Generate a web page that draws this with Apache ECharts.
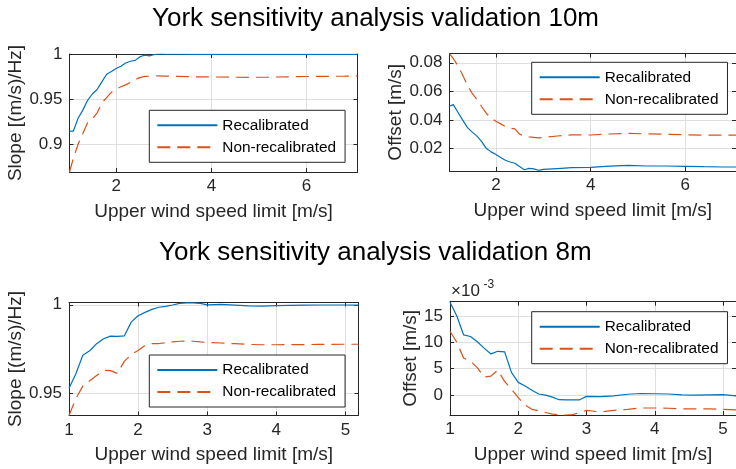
<!DOCTYPE html>
<html>
<head>
<meta charset="utf-8">
<script src="https://cdn.jsdelivr.net/npm/echarts@6/dist/echarts.min.js"></script>
<style>
html, body { margin: 0; padding: 0; background: #fff; }
#chart { width: 736px; height: 469px; }
</style>
</head>
<body>
<div id="chart"></div>
<script>
// upper wind speed limit [m/s]
const speed10m = [1.02, 1.1, 1.2, 1.3, 1.4, 1.5, 1.6, 1.7, 1.8, 1.9, 2.0, 2.1, 2.2, 2.3, 2.4, 2.5, 2.6, 2.7, 2.8, 2.9, 3.0, 3.3, 3.6, 4.0, 4.4, 4.8, 5.2, 5.6, 6.0, 6.4, 6.8, 7.07]
const speed8m = [1.0, 1.1, 1.2, 1.3, 1.4, 1.5, 1.6, 1.7, 1.8, 1.9, 2.0, 2.1, 2.2, 2.3, 2.4, 2.5, 2.6, 2.7, 2.8, 2.9, 3.0, 3.2, 3.4, 3.6, 3.8, 4.0, 4.2, 4.4, 4.6, 4.8, 5.0, 5.19]

// 10m slope
const slopeRecal10m = [0.9145, 0.9145, 0.929, 0.938, 0.949, 0.956, 0.961, 0.9695, 0.978, 0.981, 0.9844, 0.987, 0.9905, 0.9925, 0.9935, 0.9975, 0.9993, 0.9985, 1.0, 1.0006, 1.0005, 1.0003, 1.0002, 1.0003, 1.0002, 1.0002, 1.0001, 1.0001, 1.0002, 1.0002, 1.0002, 1.0002]
const slopeNon10m = [0.869, 0.884, 0.900, 0.912, 0.924, 0.928, 0.935, 0.946, 0.952, 0.958, 0.9613, 0.964, 0.9662, 0.969, 0.972, 0.9742, 0.9756, 0.9758, 0.976, 0.9762, 0.976, 0.9756, 0.9752, 0.975, 0.9747, 0.9746, 0.9748, 0.9752, 0.9755, 0.9757, 0.9759, 0.9762]
// 10m offset [m/s]
const offsetRecal10m = [0.0495, 0.0507, 0.0452, 0.0398, 0.0346, 0.0314, 0.0286, 0.0248, 0.0199, 0.0176, 0.0158, 0.0137, 0.0117, 0.0105, 0.0096, 0.0074, 0.0051, 0.0060, 0.0057, 0.0047, 0.0053, 0.0059, 0.0065, 0.0068, 0.0076, 0.0081, 0.0077, 0.0077, 0.0075, 0.0072, 0.0070, 0.0070]
const offsetNon10m = [0.0863, 0.0830, 0.0778, 0.0713, 0.0642, 0.0585, 0.0542, 0.0492, 0.0445, 0.0412, 0.0390, 0.0372, 0.0353, 0.0342, 0.0337, 0.0300, 0.0287, 0.0281, 0.0278, 0.0274, 0.0277, 0.0287, 0.0295, 0.0294, 0.0301, 0.0305, 0.0302, 0.0299, 0.0296, 0.0293, 0.0293, 0.0293]

// 8m slope
const slopeRecal8m = [0.9528, 0.961, 0.9715, 0.974, 0.978, 0.9808, 0.9823, 0.9822, 0.9824, 0.9902, 0.9938, 0.9957, 0.9974, 0.9986, 0.9991, 0.9999, 1.0008, 1.0011, 1.0011, 1.0008, 1.0, 1.0002, 0.9998, 0.9994, 0.9992, 0.9995, 0.9997, 0.9998, 0.9999, 0.9999, 0.9999, 0.9998]
const slopeNon8m = [0.9374, 0.947, 0.954, 0.957, 0.960, 0.963, 0.9628, 0.9612, 0.968, 0.9718, 0.9742, 0.977, 0.978, 0.9781, 0.9785, 0.979, 0.9794, 0.9795, 0.9794, 0.979, 0.9787, 0.9784, 0.978, 0.9776, 0.9774, 0.9774, 0.9775, 0.9775, 0.9776, 0.9776, 0.9777, 0.9777]
// 8m offset, in units of 1e-3 m/s
const offsetRecal8m = [17.6, 15.0, 11.4, 11.1, 10.1, 8.9, 7.8, 8.3, 8.2, 4.3, 2.4, 1.7, 0.9, 0.2, 0.0, -0.4, -0.88, -0.9, -0.9, -0.9, -0.25, -0.3, -0.15, 0.15, 0.3, 0.25, 0.2, 0.05, 0.0, 0.05, 0.1, -0.15]
const offsetNon8m = [12.1, 10.0, 7.0, 6.4, 5.2, 3.4, 3.6, 4.7, 2.6, 1.1, -0.5, -1.9, -2.7, -3.0, -3.3, -3.6, -3.75, -3.8, -3.7, -3.3, -2.9, -3.2, -2.9, -2.7, -2.45, -2.45, -2.5, -2.6, -2.6, -2.6, -2.7, -2.8]

// tick labels
const xTicks10m = [2, 4, 6]
const xTicks8m = [1, 2, 3, 4, 5]
const slopeTicks10m = [0.9, 0.95, 1]
const offsetTicks10m = [0.02, 0.04, 0.06, 0.08]
const slopeTicks8m = [0.95, 1]
const offsetTicks8m = [0, 5, 10, 15]

const seriesNames = ['Recalibrated', 'Non-recalibrated']

const FONT = 'Arial, "Liberation Sans", Helvetica, sans-serif'
const AX = '#262626'
const GRIDC = '#dfdfdf'
const BLUE = '#0072BD'
const ORANGE = '#D95319'

const panels = [
  { grid: { left: 69.5, top: 54, width: 288, height: 118 }, xr: [1.02, 7.07], xt: xTicks10m,
    yr: [0.869, 1.0006], yt: slopeTicks10m, yName: 'Slope [(m/s)/Hz]', yGap: 44,
    xs: speed10m, a: slopeRecal10m, b: slopeNon10m, leg: { left: 149.3, top: 110.3 } },
  { grid: { left: 449.5, top: 53.5, width: 288.6, height: 117.5 }, xr: [1.02, 7.07], xt: xTicks10m,
    yr: [0.0042, 0.0865], yt: offsetTicks10m, yName: 'Offset [m/s]', yGap: 42,
    xs: speed10m, a: offsetRecal10m, b: offsetNon10m, leg: { left: 531.7, top: 62.3 } },
  { grid: { left: 69, top: 302.5, width: 289.5, height: 113 }, xr: [1.0, 5.19], xt: xTicks8m,
    yr: [0.9374, 1.0013], yt: slopeTicks8m, yName: 'Slope [(m/s)/Hz]', yGap: 44,
    xs: speed8m, a: slopeRecal8m, b: slopeNon8m, leg: { left: 149.3, top: 355 } },
  { grid: { left: 450, top: 301.7, width: 290, height: 113.3 }, xr: [1.0, 5.19], xt: xTicks8m,
    yr: [-3.78, 17.7], yt: offsetTicks8m, yName: 'Offset [m/s]', yGap: 30,
    xs: speed8m, a: offsetRecal8m, b: offsetNon8m, leg: { left: 531.7, top: 311.7 } }
]

const pairs = (xs, ys) => xs.map((x, i) => [x, ys[i]])

const grids = [], xAxes = [], yAxes = [], series = [], legends = []

panels.forEach((p, i) => {
  grids.push(Object.assign({ containLabel: false }, p.grid))
  const tick = (vals) => ({ show: true, inside: true, length: 4, customValues: vals, lineStyle: { color: AX, width: 1 } })
  const line = { show: true, onZero: false, lineStyle: { color: AX, width: 1 } }
  // bottom / top x axes
  xAxes.push({
    gridIndex: i, type: 'value', position: 'bottom', min: p.xr[0], max: p.xr[1],
    axisLine: line, axisTick: tick(p.xt),
    axisLabel: { customValues: p.xt, margin: 6, fontSize: 17, color: AX, fontFamily: FONT },
    splitLine: { show: true, lineStyle: { color: GRIDC, width: 1 } },
    name: 'Upper wind speed limit [m/s]', nameLocation: 'middle', nameGap: 30,
    nameTextStyle: { fontSize: 19, color: AX, fontFamily: FONT }
  })
  xAxes.push({
    gridIndex: i, type: 'value', position: 'top', min: p.xr[0], max: p.xr[1],
    axisLine: line, axisTick: tick(p.xt), axisLabel: { show: false }, splitLine: { show: false }
  })
  // left / right y axes
  yAxes.push({
    gridIndex: i, type: 'value', position: 'left', min: p.yr[0], max: p.yr[1],
    axisLine: line, axisTick: tick(p.yt),
    axisLabel: { customValues: p.yt, margin: 7, fontSize: 17, color: AX, fontFamily: FONT },
    splitLine: { show: true, lineStyle: { color: GRIDC, width: 1 } },
    name: p.yName, nameLocation: 'middle', nameGap: p.yGap,
    nameTextStyle: { fontSize: 19, color: AX, fontFamily: FONT }
  })
  yAxes.push({
    gridIndex: i, type: 'value', position: 'right', min: p.yr[0], max: p.yr[1],
    axisLine: line, axisTick: tick(p.yt), axisLabel: { show: false }, splitLine: { show: false }
  })

  series.push({
    name: seriesNames[0], type: 'line', xAxisIndex: i * 2, yAxisIndex: i * 2,
    data: pairs(p.xs, p.a), symbol: 'none', smooth: false, animation: false,
    lineStyle: { color: BLUE, width: 1.2 }, itemStyle: { color: BLUE }
  })
  series.push({
    name: seriesNames[1], type: 'line', xAxisIndex: i * 2, yAxisIndex: i * 2,
    data: pairs(p.xs, p.b), symbol: 'none', smooth: false, animation: false,
    lineStyle: { color: ORANGE, width: 1.2, type: [13, 7] }, itemStyle: { color: ORANGE }
  })

  legends.push({
    left: p.leg.left, top: p.leg.top, orient: 'vertical', data: seriesNames,
    backgroundColor: '#fff', borderColor: AX, borderWidth: 1, padding: [7, 9, 7, 7],
    itemWidth: 60, itemHeight: 16, itemGap: 6, selectedMode: false,
    itemStyle: { opacity: 0 },
    textStyle: { fontSize: 15.4, color: '#000', fontFamily: FONT, lineHeight: 16 }
  })
})

const chart = echarts.init(document.getElementById('chart'))

chart.setOption({
  animation: false,
  backgroundColor: '#fff',
  title: [
    { text: 'York sensitivity analysis validation 10m', left: 152, top: 6, padding: 0,
      textStyle: { fontSize: 26, fontWeight: 'normal', color: '#000', fontFamily: FONT } },
    { text: 'York sensitivity analysis validation 8m', left: 159, top: 239.5, padding: 0,
      textStyle: { fontSize: 26, fontWeight: 'normal', color: '#000', fontFamily: FONT } }
  ],
  graphic: [
    { type: 'text', left: 451, top: 282.5, style: { text: '×10', fontSize: 17, fill: AX, fontFamily: FONT } },
    { type: 'text', left: 483.5, top: 278.5, style: { text: '-3', fontSize: 12, fill: AX, fontFamily: FONT } }
  ],
  legend: legends,
  grid: grids,
  xAxis: xAxes,
  yAxis: yAxes,
  series: series
})
</script>
</body>
</html>
